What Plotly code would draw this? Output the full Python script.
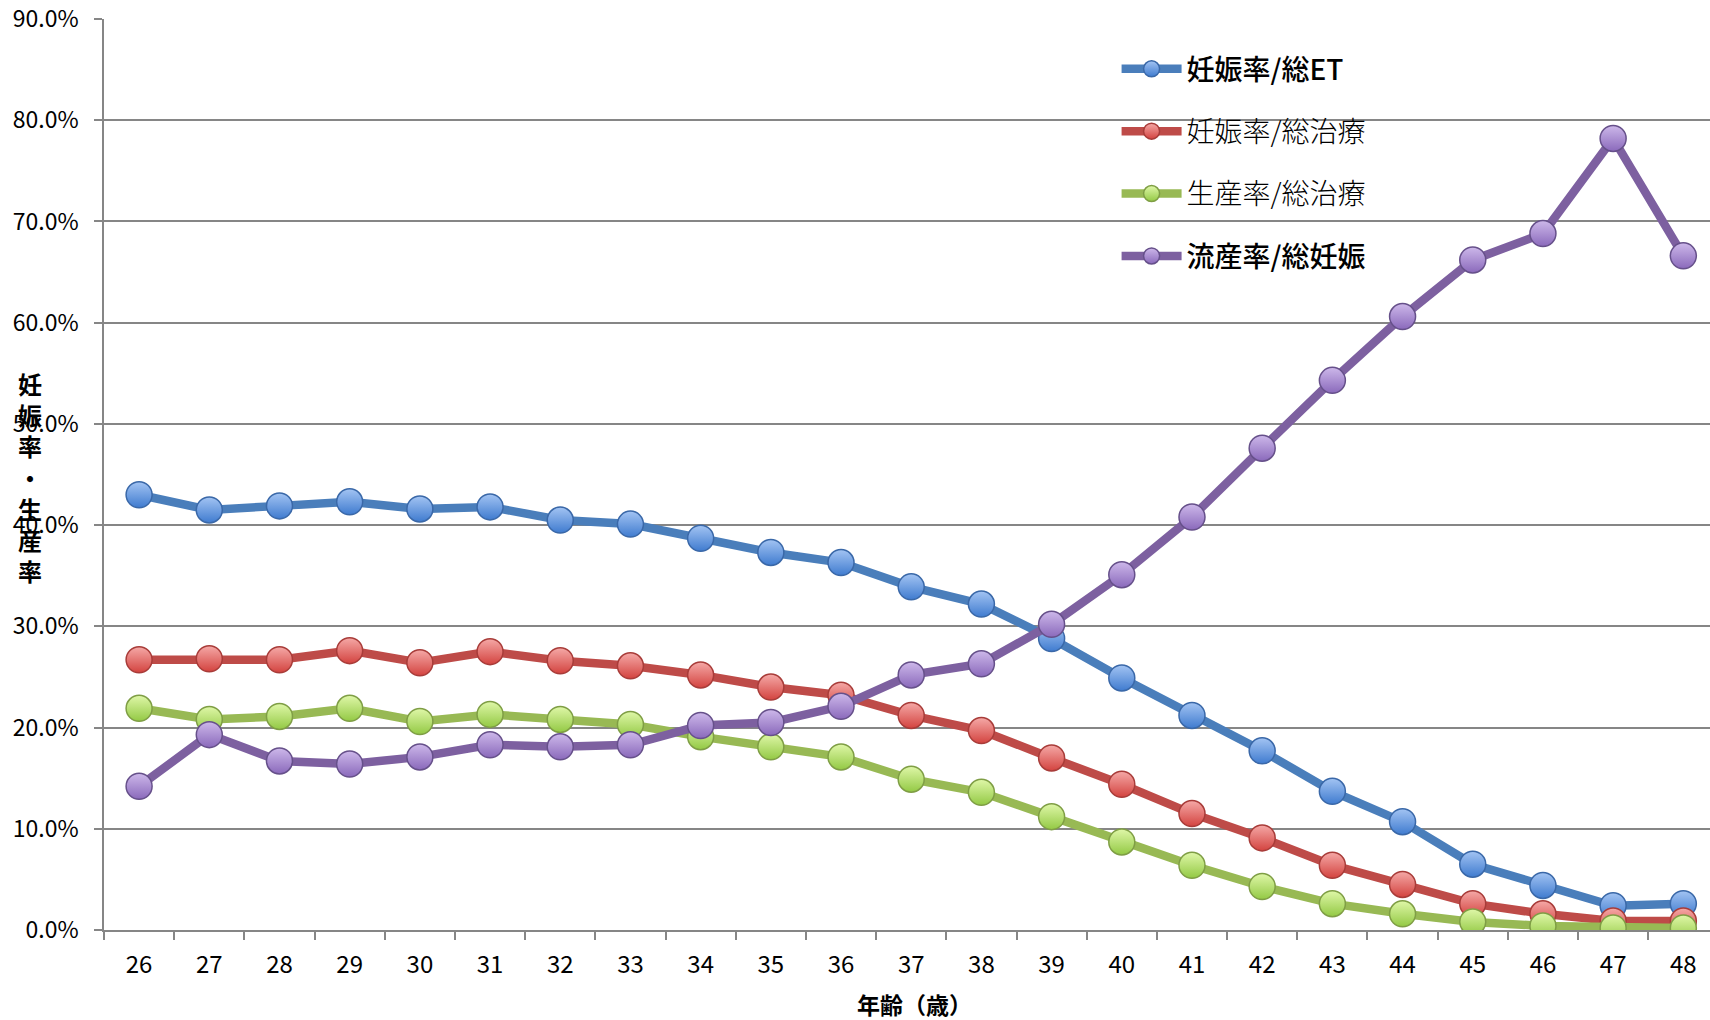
import plotly.graph_objects as go

ages = [str(a) for a in range(26, 49)]

preg_per_et = [43.0, 41.5, 41.9, 42.3, 41.6, 41.8, 40.5, 40.1, 38.7, 37.3, 36.3, 33.9,
               32.2, 28.8, 24.9, 21.2, 17.7, 13.7, 10.7, 6.5, 4.4, 2.4, 2.6]
preg_per_treat = [26.7, 26.8, 26.7, 27.6, 26.4, 27.5, 26.6, 26.1, 25.2, 24.0, 23.2, 21.2,
                  19.7, 17.0, 14.4, 11.5, 9.1, 6.4, 4.5, 2.6, 1.6, 0.9, 0.9]
birth_per_treat = [21.9, 20.8, 21.1, 21.9, 20.6, 21.3, 20.8, 20.3, 19.1, 18.1, 17.1, 14.9,
                   13.6, 11.2, 8.7, 6.4, 4.3, 2.6, 1.6, 0.8, 0.4, 0.2, 0.2]
miscarriage_per_preg = [14.2, 19.3, 16.7, 16.4, 17.1, 18.3, 18.1, 18.3, 20.2, 20.5, 22.1, 25.2,
                        26.3, 30.2, 35.1, 40.8, 47.6, 54.3, 60.6, 66.2, 68.8, 78.2, 66.6]

series_labels = ["妊娠率/総ET", "妊娠率/総治療", "生産率/総治療", "流産率/総妊娠"]
label_weights = [500, 300, 300, 500]
series_values = [preg_per_et, preg_per_treat, birth_per_treat, miscarriage_per_preg]
line_colors = ["#4a7ebb", "#be4b48", "#98b954", "#7d60a0"]
marker_top = ["#a3c4f3", "#f5a9a7", "#dff7a8", "#cdb8ea"]
marker_bottom = ["#3f7bcf", "#d3433f", "#93c944", "#8a69bb"]
marker_edge = ["#3a68a8", "#a83c39", "#7f9e45", "#66508a"]

FONT = "Noto Sans CJK JP"

fig = go.Figure()
for label, wt, vals, lc, mt, mb, me in zip(series_labels, label_weights, series_values,
                                           line_colors, marker_top, marker_bottom, marker_edge):
    name = '<span style="font-weight:%d">%s</span>' % (wt, label)
    fig.add_trace(go.Scatter(
        x=ages, y=vals, name=name, mode="lines+markers",
        line=dict(color=lc, width=8.5),
        marker=dict(size=26, color=mt, symbol="circle",
                    gradient=dict(type="vertical", color=mb),
                    line=dict(color=me, width=1.5)),
        legendgroup=label,
    ))

fig.update_layout(
    width=1710, height=1020,
    margin=dict(l=104, r=0, t=19, b=90),
    paper_bgcolor="white", plot_bgcolor="white",
    font=dict(family=FONT, size=22, color="#000000"),
    showlegend=True,
    legend=dict(x=0.6305, y=0.9725, xanchor="left", yanchor="top",
                bgcolor="rgba(0,0,0,0)", font=dict(size=28, family=FONT),
                tracegroupgap=23, itemwidth=60),
)

fig.update_xaxes(
    type="category", range=[-0.5, 22.38],
    showline=True, linecolor="#868686", linewidth=1.5,
    showgrid=False, ticks="outside", tickson="boundaries",
    ticklen=8, tickcolor="#868686", tickwidth=1.5,
    tickfont=dict(size=24, family=FONT), ticklabelstandoff=12,
)
fig.update_yaxes(
    range=[0, 90], dtick=10, tickformat=".1f", ticksuffix="%",
    showline=True, linecolor="#868686", linewidth=1.5,
    showgrid=True, gridcolor="#868686", gridwidth=1.5,
    ticks="outside", ticklen=8, tickcolor="#868686", tickwidth=1.5,
    tickfont=dict(size=23, family=FONT), zeroline=False, ticklabelstandoff=11,
)

fig.add_annotation(
    text="<b>妊<br>娠<br>率<br>・<br>生<br>産<br>率</b>",
    xref="paper", yref="paper", x=-0.0458, y=0.497,
    xanchor="center", yanchor="middle", showarrow=False,
    font=dict(size=24, family=FONT),
)
fig.add_annotation(
    text="<b>年齢（歳）</b>",
    xref="paper", yref="paper", x=0.5047, y=-0.081,
    xanchor="center", yanchor="middle", showarrow=False,
    font=dict(size=23, family=FONT),
)

fig.write_html("out.html", config={"displayModeBar": False},
               post_script="document.body.style.margin='0';document.body.style.overflow='hidden';")
